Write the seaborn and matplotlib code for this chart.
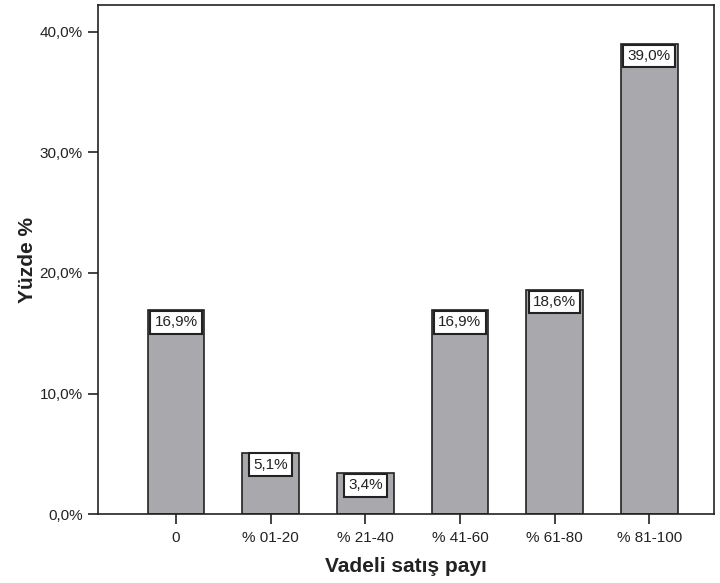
import matplotlib
matplotlib.use("Agg")
import matplotlib.pyplot as plt
import pandas as pd
import seaborn as sns

categories = ["0", "% 01-20", "% 21-40", "% 41-60", "% 61-80", "% 81-100"]
percentages = [16.9, 5.1, 3.4, 16.9, 18.6, 39.0]
value_labels = ["16,9%", "5,1%", "3,4%", "16,9%", "18,6%", "39,0%"]
y_ticks = [0, 10, 20, 30, 40]
y_tick_labels = ["0,0%", "10,0%", "20,0%", "30,0%", "40,0%"]

sns.set_style("white")
plt.rcParams['font.family'] = ['Liberation Sans', 'DejaVu Sans']

df = pd.DataFrame({"Vadeli": categories, "Yuzde": percentages})

fig = plt.figure(figsize=(7.2, 5.83), dpi=100)
ax = fig.add_axes([0.136, 0.118, 0.856, 0.873])

sns.barplot(data=df, x="Vadeli", y="Yuzde", color="#a9a9ad", saturation=1,
            edgecolor="#222222", linewidth=1.2, width=0.6, ax=ax)

# boxed labels hanging from the top of each bar
for i, (v, lab) in enumerate(zip(percentages, value_labels)):
    ax.text(i, v - 0.42, lab, ha="center", va="top", fontsize=11, color="#222222",
            bbox=dict(boxstyle="square,pad=0.28", facecolor="white",
                      edgecolor="#222222", linewidth=1.5))

ax.set_xlim(-0.825, 5.687)
ax.set_ylim(0, 42.2)
ax.set_yticks(y_ticks)
ax.set_yticklabels(y_tick_labels)
ax.tick_params(axis="both", which="both", direction="out", length=7, width=1.2,
               color="#222222", labelsize=11, labelcolor="#222222", left=True, bottom=True,
               pad=4)
ax.tick_params(axis="x", pad=5)
for s in ax.spines.values():
    s.set_color("#222222")
    s.set_linewidth(1.2)

ax.set_xlabel("Vadeli satış payı", fontsize=15, fontweight="bold", color="#222222", labelpad=9)
ax.set_ylabel("Yüzde %", fontsize=15, fontweight="bold", color="#222222", labelpad=2)

plt.savefig("out.png", dpi=100)
